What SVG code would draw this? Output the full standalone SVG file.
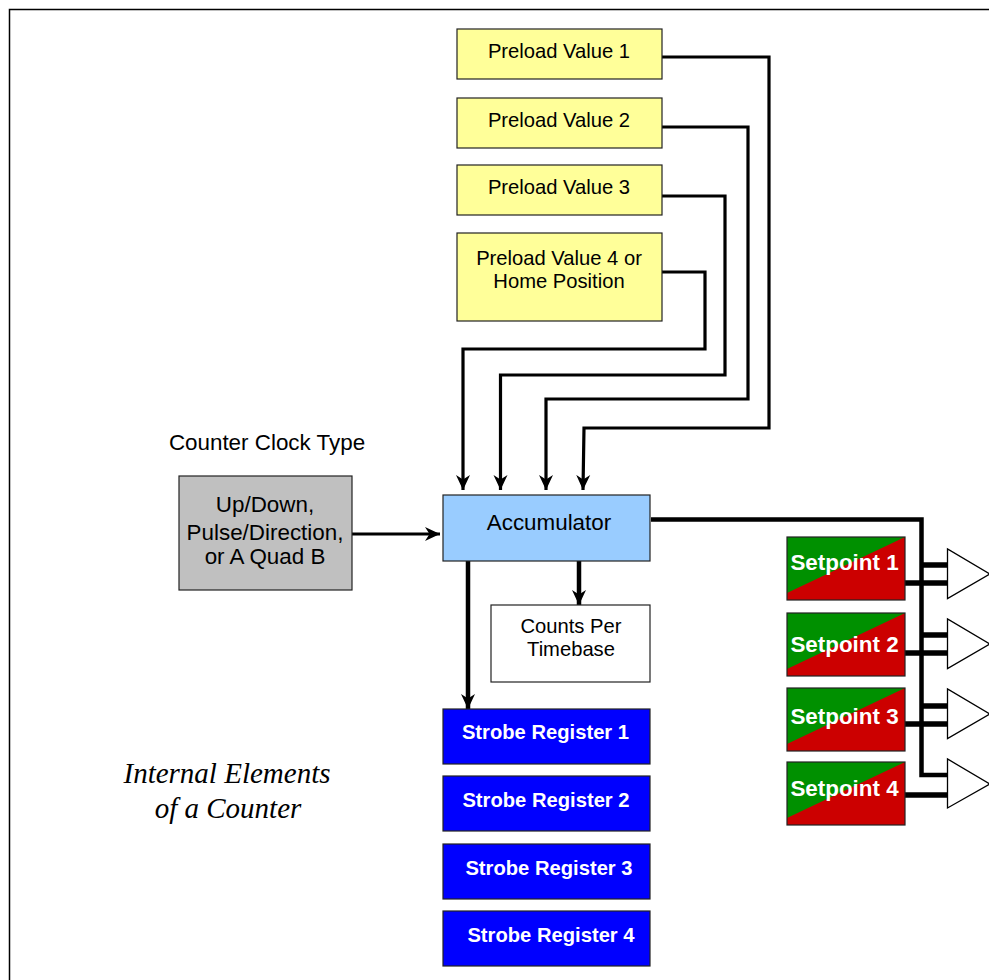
<svg xmlns="http://www.w3.org/2000/svg" width="989" height="980" viewBox="0 0 989 980">
<style>
text{font-family:"Liberation Sans",Arial,sans-serif;font-size:20.2px;text-anchor:middle;fill:#000}
.l{font-size:22.4px}
.box{stroke:#222;stroke-width:1.2}
.y{fill:#ffff99}
.b{fill:#0000ff}
.w{fill:#fff;font-weight:bold}
.c{fill:none;stroke:#000;stroke-width:3.2}
.t{fill:none;stroke:#000;stroke-width:4.5}
.u{fill:none;stroke:#000;stroke-width:5.500}
.sp{fill:#009000}
.r{fill:#cc0000}
.tri{fill:#fff;stroke:#000;stroke-width:1.3}
.it{font-family:"Liberation Serif",serif;font-style:italic;font-size:29px}
</style>
<defs>
<marker id="a" markerUnits="userSpaceOnUse" markerWidth="18" markerHeight="18" refX="15" refY="8" orient="auto"><path d="M0,1L15,8L0,15L4.500,8Z" fill="#000"/></marker>
</defs>
<rect x="9.500" y="9.500" width="990" height="980" fill="#fff" stroke="#000" stroke-width="1.500"/>
<g id="connectors">
<path class="c" d="M662,57H769V428H584L583,490" marker-end="url(#a)"/>
<path class="c" d="M662,127H748V399H546V490" marker-end="url(#a)"/>
<path class="c" d="M662,196H725V375H500.500V490" marker-end="url(#a)"/>
<path class="c" d="M662,272H705V349H463V490" marker-end="url(#a)"/>
<path class="c" d="M352,534H440" marker-end="url(#a)"/>
<path class="t" d="M468,561V709" marker-end="url(#a)"/>
<path class="t" d="M579,561V605" marker-end="url(#a)"/>
<path class="t" d="M651,519.500H921.500V775H948"/>
<path class="u" d="M921,565H948M905,583H948M921,635H948M905,653H948M921,706H948M905,724H948M905,795H948"/>
</g>
<g id="preload1"><rect class="box y" x="457" y="29" width="205" height="50"/><text x="559" y="58">Preload Value 1</text></g>
<g id="preload2"><rect class="box y" x="457" y="98" width="205" height="50"/><text x="559" y="126.500">Preload Value 2</text></g>
<g id="preload3"><rect class="box y" x="457" y="165" width="205" height="50"/><text x="559" y="193.500">Preload Value 3</text></g>
<g id="preload4"><rect class="box y" x="457" y="233" width="205" height="88"/><text x="559" y="265">Preload Value 4 or</text><text x="559" y="288">Home Position</text></g>
<g id="clocktype-label"><text class="l" x="267" y="450">Counter Clock Type</text></g>
<g id="clock"><rect class="box" fill="#c0c0c0" x="179" y="476" width="173" height="114"/><text class="l" x="265" y="512">Up/Down,</text><text class="l" x="265" y="540">Pulse/Direction,</text><text class="l" x="265" y="564">or A Quad B</text></g>
<g id="accumulator"><rect class="box" fill="#99ccff" x="443" y="495" width="207" height="66"/><text class="l" x="549" y="530">Accumulator</text></g>
<g id="counts"><rect class="box" fill="#fff" x="491" y="605" width="159" height="77"/><text x="571" y="633">Counts Per</text><text x="571" y="656">Timebase</text></g>
<g id="strobe1"><rect class="box b" x="443" y="709" width="207" height="55"/><text class="w" x="545.500" y="739">Strobe Register 1</text></g>
<g id="strobe2"><rect class="box b" x="443" y="776" width="207" height="55"/><text class="w" x="546" y="807">Strobe Register 2</text></g>
<g id="strobe3"><rect class="box b" x="443" y="844" width="207" height="55"/><text class="w" x="549" y="875">Strobe Register 3</text></g>
<g id="strobe4"><rect class="box b" x="443" y="911" width="207" height="55"/><text class="w" x="551" y="942">Strobe Register 4</text></g>
<g id="setpoint1"><rect class="r" x="787" y="537" width="118" height="63"/><path class="sp" d="M787,593V537H905Z"/><rect x="787" y="537" width="118" height="63" fill="none" stroke="#222" stroke-width="1.200"/><text class="w l" x="844.500" y="570">Setpoint 1</text></g>
<g id="setpoint2"><rect class="r" x="787" y="613" width="118" height="63"/><path class="sp" d="M787,669V613H905Z"/><rect x="787" y="613" width="118" height="63" fill="none" stroke="#222" stroke-width="1.200"/><text class="w l" x="844.500" y="652">Setpoint 2</text></g>
<g id="setpoint3"><rect class="r" x="787" y="688" width="118" height="63"/><path class="sp" d="M787,744V688H905Z"/><rect x="787" y="688" width="118" height="63" fill="none" stroke="#222" stroke-width="1.200"/><text class="w l" x="844.500" y="724">Setpoint 3</text></g>
<g id="setpoint4"><rect class="r" x="787" y="762" width="118" height="63"/><path class="sp" d="M787,818V762H905Z"/><rect x="787" y="762" width="118" height="63" fill="none" stroke="#222" stroke-width="1.200"/><text class="w l" x="844.500" y="796">Setpoint 4</text></g>
<g id="out1"><path class="tri" d="M947.500,549V598.500L990,574Z"/></g>
<g id="out2"><path class="tri" d="M947.500,619V668.500L990,644Z"/></g>
<g id="out3"><path class="tri" d="M947.500,689V738.500L990,714Z"/></g>
<g id="out4"><path class="tri" d="M947.500,759V808L990,784Z"/></g>
<g id="title"><text class="it" x="227" y="783">Internal Elements</text><text class="it" x="228" y="818">of a Counter</text></g>
</svg>
